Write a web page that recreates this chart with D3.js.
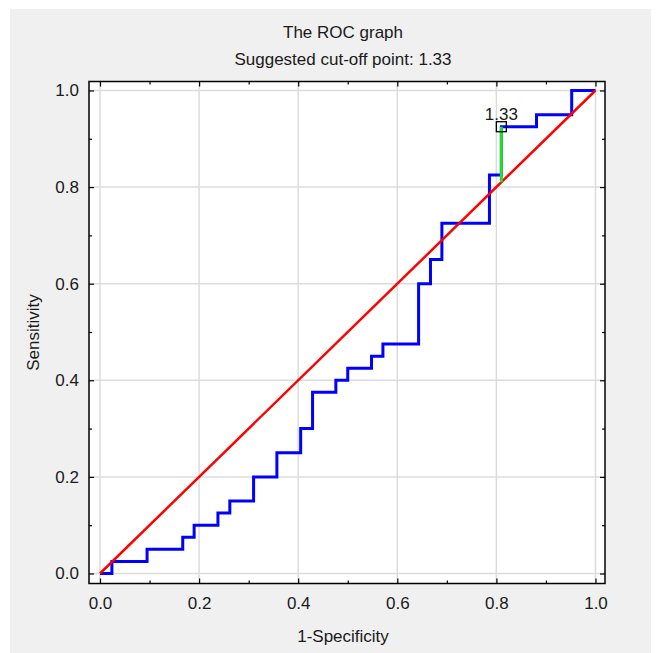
<!DOCTYPE html>
<html>
<head>
<meta charset="utf-8">
<script src="https://cdn.jsdelivr.net/npm/d3@7"></script>
<style>
  body { margin: 0; background: #fff; }
  text { font-family: "Liberation Sans", Arial, sans-serif; fill: #1a1a1a; }
</style>
</head>
<body>
<svg width="662" height="653"></svg>
<script>
// ROC curve points (1-Specificity, Sensitivity)
const fpr = [0, 0.024, 0.095, 0.167, 0.190, 0.238, 0.262, 0.310, 0.357, 0.405, 0.429, 0.476,
             0.500, 0.548, 0.571, 0.643, 0.667, 0.690, 0.786, 0.810, 0.881, 0.952, 1.0];
const tpr = [0, 0.025, 0.05, 0.075, 0.1, 0.125, 0.15, 0.2, 0.25, 0.3, 0.375, 0.4,
             0.425, 0.45, 0.475, 0.6, 0.65, 0.725, 0.825, 0.925, 0.95, 1.0, 1.0];
const diagonal = [0, 1];
const cutoff = {fpr: 0.810, tpr: 0.925, label: "1.33"};
const majorTicks = [0, 0.2, 0.4, 0.6, 0.8, 1.0];
const minorTicks = [0.1, 0.3, 0.5, 0.7, 0.9];
const titleText = "The ROC graph";
const subtitleText = "Suggested cut-off point: 1.33";
const xLabel = "1-Specificity";
const yLabel = "Sensitivity";

const svg = d3.select("svg");

// outer panel
svg.append("rect")
  .attr("x", 10).attr("y", 9)
  .attr("width", 641).attr("height", 644)
  .attr("fill", "#f0f0f0");

// plot frame
const frame = {left: 89, right: 605, top: 81.5, bottom: 583.5};

const x = d3.scaleLinear()
  .domain([-0.0222, 1.0192])
  .range([frame.left, frame.right]);
const y = d3.scaleLinear()
  .domain([-0.0207, 1.0186])
  .range([frame.bottom, frame.top]);

svg.append("rect")
  .attr("x", frame.left).attr("y", frame.top)
  .attr("width", frame.right - frame.left)
  .attr("height", frame.bottom - frame.top)
  .attr("fill", "#fff");

// grid
const grid = svg.append("g").attr("stroke", "#dcdcdc").attr("stroke-width", 1.5);
grid.selectAll(".gx").data(majorTicks).enter().append("line")
  .attr("x1", d => x(d)).attr("x2", d => x(d))
  .attr("y1", frame.top).attr("y2", frame.bottom);
grid.selectAll(".gy").data(majorTicks).enter().append("line")
  .attr("y1", d => y(d)).attr("y2", d => y(d))
  .attr("x1", frame.left).attr("x2", frame.right);

// axes (ticks pointing inward)
const fmt = d3.format(".1f");
function styleAxis(g) {
  g.select(".domain").remove();
  g.selectAll("line").attr("stroke", "#000").attr("stroke-width", 1.2);
  g.selectAll("text").attr("font-size", "17px").attr("fill", "#1a1a1a")
    .attr("font-family", "Liberation Sans, Arial, sans-serif");
}

svg.append("g")
  .attr("transform", `translate(0,${frame.bottom})`)
  .call(d3.axisBottom(x).tickValues(majorTicks).tickFormat(fmt).tickSize(-5).tickPadding(13))
  .call(styleAxis);
svg.append("g")
  .attr("transform", `translate(0,${frame.bottom})`)
  .call(d3.axisBottom(x).tickValues(minorTicks).tickFormat("").tickSize(-3))
  .call(styleAxis);

svg.append("g")
  .attr("transform", `translate(${frame.left},0)`)
  .call(d3.axisLeft(y).tickValues(majorTicks).tickFormat(fmt).tickSize(-5).tickPadding(10))
  .call(styleAxis);
svg.append("g")
  .attr("transform", `translate(${frame.left},0)`)
  .call(d3.axisLeft(y).tickValues(minorTicks).tickFormat("").tickSize(-3))
  .call(styleAxis);

svg.append("g")
  .attr("transform", `translate(0,${frame.top})`)
  .call(d3.axisTop(x).tickValues(majorTicks).tickFormat("").tickSize(-5))
  .call(styleAxis);
svg.append("g")
  .attr("transform", `translate(0,${frame.top})`)
  .call(d3.axisTop(x).tickValues(minorTicks).tickFormat("").tickSize(-3))
  .call(styleAxis);

svg.append("g")
  .attr("transform", `translate(${frame.right},0)`)
  .call(d3.axisRight(y).tickValues(majorTicks).tickFormat("").tickSize(-5))
  .call(styleAxis);
svg.append("g")
  .attr("transform", `translate(${frame.right},0)`)
  .call(d3.axisRight(y).tickValues(minorTicks).tickFormat("").tickSize(-3))
  .call(styleAxis);

// ROC step line
const rocData = fpr.map((f, i) => ({f: f, t: tpr[i]}));
const rocLine = d3.line()
  .x(d => x(d.f))
  .y(d => y(d.t))
  .curve(d3.curveStepAfter);

svg.append("path")
  .datum(rocData)
  .attr("d", rocLine)
  .attr("fill", "none")
  .attr("stroke", "#0000ff")
  .attr("stroke-width", 3);

// reference diagonal
svg.append("line")
  .attr("x1", x(diagonal[0])).attr("y1", y(diagonal[0]))
  .attr("x2", x(diagonal[1])).attr("y2", y(diagonal[1]))
  .attr("stroke", "#ff0000")
  .attr("stroke-width", 2.5);

// cut-off: distance to diagonal
svg.append("line")
  .attr("x1", x(cutoff.fpr)).attr("x2", x(cutoff.fpr))
  .attr("y1", y(cutoff.fpr)).attr("y2", y(cutoff.tpr))
  .attr("stroke", "#22e022")
  .attr("stroke-width", 3);

svg.append("rect")
  .attr("x", x(cutoff.fpr) - 5).attr("y", y(cutoff.tpr) - 5)
  .attr("width", 10).attr("height", 10)
  .attr("fill", "none")
  .attr("stroke", "#000")
  .attr("stroke-width", 1.3);

svg.append("text")
  .attr("x", x(cutoff.fpr))
  .attr("y", y(cutoff.tpr) - 7)
  .attr("text-anchor", "middle")
  .attr("font-size", "17px")
  .text(cutoff.label);

// frame border
svg.append("rect")
  .attr("x", frame.left).attr("y", frame.top)
  .attr("width", frame.right - frame.left)
  .attr("height", frame.bottom - frame.top)
  .attr("fill", "none")
  .attr("stroke", "#000")
  .attr("stroke-width", 1.5);

// titles
svg.append("text")
  .attr("x", 343).attr("y", 38)
  .attr("text-anchor", "middle")
  .attr("font-size", "17px")
  .text(titleText);
svg.append("text")
  .attr("x", 343).attr("y", 65)
  .attr("text-anchor", "middle")
  .attr("font-size", "17px")
  .text(subtitleText);

// axis labels
svg.append("text")
  .attr("x", 343).attr("y", 642)
  .attr("text-anchor", "middle")
  .attr("font-size", "17px")
  .text(xLabel);
svg.append("text")
  .attr("transform", `translate(39,${(frame.top + frame.bottom) / 2}) rotate(-90)`)
  .attr("text-anchor", "middle")
  .attr("font-size", "17px")
  .text(yLabel);
</script>
</body>
</html>
